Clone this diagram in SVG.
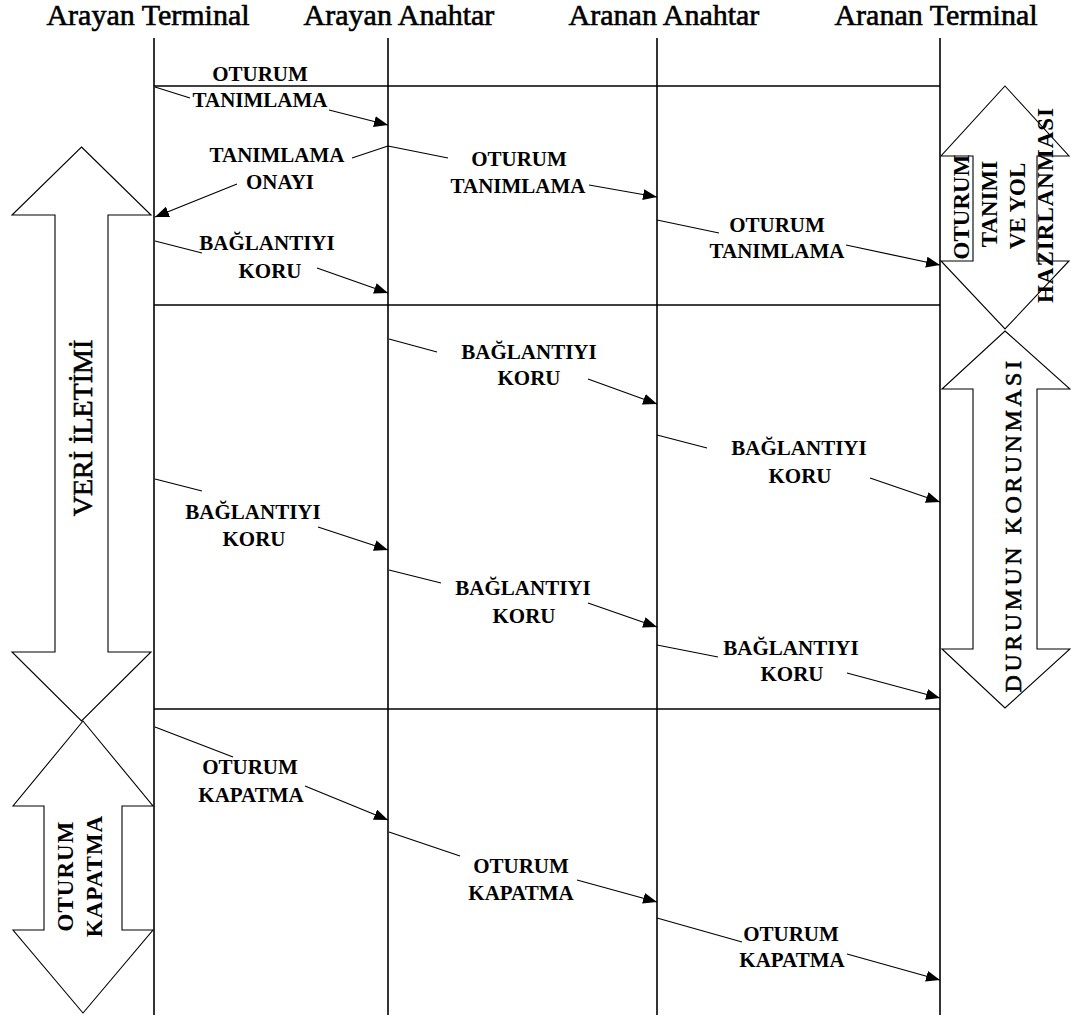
<svg xmlns="http://www.w3.org/2000/svg" width="1071" height="1018" viewBox="0 0 1071 1018">
<style>
.hdr{font-family:"Liberation Serif","Times New Roman",serif;font-size:30px;fill:#000;stroke:#000;stroke-width:0.6;text-anchor:middle}
.lbl{font-family:"Liberation Serif","Times New Roman",serif;font-size:21px;font-weight:bold;fill:#000;text-anchor:middle}
.blk{font-family:"Liberation Serif","Times New Roman",serif;font-size:23px;font-weight:bold;fill:#000;text-anchor:middle}
.big{font-family:"Liberation Serif","Times New Roman",serif;fill:#000;stroke:#000;stroke-width:0.6;text-anchor:middle}
.life{stroke:#000;stroke-width:1.6;fill:none}
.grid{stroke:#000;stroke-width:1.6;fill:none}
.shape{fill:#fff;stroke:#000;stroke-width:1.1}
.msg{stroke:#000;stroke-width:1.2;fill:none;marker-end:url(#ah)}
</style>
<defs>
<marker id="ah" markerUnits="userSpaceOnUse" markerWidth="15" markerHeight="11" refX="14" refY="5.5" orient="auto"><path d="M0,0 L14,5.5 L0,11 z" fill="#000"/></marker>
</defs>
<rect width="1071" height="1018" fill="#fff"/>

<g id="lifeline-arayan-terminal">
<text class="hdr" x="148" y="25">Arayan Terminal</text>
<line class="life" x1="154" y1="38" x2="154" y2="1015"/>
</g>
<g id="lifeline-arayan-anahtar">
<text class="hdr" x="399" y="25">Arayan Anahtar</text>
<line class="life" x1="388" y1="38" x2="388" y2="1015"/>
</g>
<g id="lifeline-aranan-anahtar">
<text class="hdr" x="664" y="25">Aranan Anahtar</text>
<line class="life" x1="657" y1="38" x2="657" y2="1015"/>
</g>
<g id="lifeline-aranan-terminal">
<text class="hdr" x="936" y="25">Aranan Terminal</text>
<line class="life" x1="940" y1="38" x2="940" y2="1015"/>
</g>

<g id="phase-lines">
<line class="grid" x1="154" y1="86" x2="940" y2="86"/>
<line class="grid" x1="154" y1="305" x2="940" y2="305"/>
<line class="grid" x1="154" y1="709" x2="940" y2="709"/>
</g>

<g id="veri-iletimi">
<polygon class="shape" points="81.5,147 151,215 108,215 108,652 151,652 81.5,721 12,652 55,652 55,215 12,215"/>
<text class="big" font-size="28" transform="translate(92,428) rotate(-90)">VERİ İLETİMİ</text>
</g>
<g id="oturum-kapatma-phase">
<polygon class="shape" points="83,721 153,806 122,806 122,930 153,930 83,1013 13,930 44,930 44,806 13,806"/>
<text class="blk" letter-spacing="1" transform="translate(73,876) rotate(-90)">OTURUM</text>
<text class="blk" letter-spacing="1" transform="translate(102,876) rotate(-90)">KAPATMA</text>
</g>
<g id="oturum-tanimi-phase">
<polygon class="shape" points="1005,86 1069,156 1037,156 1037,261 1069,261 1005,329 941,261 973,261 973,156 941,156"/>
<text class="blk" font-size="22" transform="translate(969,207) rotate(-90)">OTURUM</text>
<text class="blk" transform="translate(997,204) rotate(-90)">TANIMI</text>
<text class="blk" transform="translate(1025,206) rotate(-90)">VE YOL</text>
<text class="blk" letter-spacing="1" transform="translate(1053,205) rotate(-90)">HAZIRLANMASI</text>
</g>
<g id="durumun-korunmasi">
<polygon class="shape" points="1005,331 1070,389 1037,389 1037,649 1070,649 1005,708 942,649 973,649 973,389 942,389"/>
<text class="big" font-size="24" letter-spacing="3.5" transform="translate(1021,525) rotate(-90)">DURUMUN KORUNMASI</text>
</g>

<g id="connectors">
<path class="msg" d="M155,87 L190,98 M329,110 L388,125"/>
<path class="msg" d="M388,146 L352,158 M237,184 L155,217"/>
<path class="msg" d="M155,241 L202,253 M317,268 L388,293"/>
<path class="msg" d="M388,146 L448,158 M589,185 L657,197"/>
<path class="msg" d="M657,220 L719,233 M846,245 L940,265"/>
<path class="msg" d="M389,339 L437,352 M588,379 L657,404"/>
<path class="msg" d="M657,435 L707,448 M870,478 L940,502"/>
<path class="msg" d="M155,479 L202,491 M318,527 L388,550"/>
<path class="msg" d="M389,570 L441,583 M588,603 L657,627"/>
<path class="msg" d="M657,645 L718,657 M847,673 L940,698"/>
<path class="msg" d="M155,727 L233,757 M305,786 L388,820"/>
<path class="msg" d="M389,832 L460,856 M577,880 L657,902"/>
<path class="msg" d="M657,918 L742,942 M847,954 L940,980"/>
</g>

<g id="labels">
<text class="lbl" x="260" y="81">OTURUM</text>
<text class="lbl" x="260" y="107">TANIMLAMA</text>
<text class="lbl" x="277" y="162">TANIMLAMA</text>
<text class="lbl" x="280" y="189">ONAYI</text>
<text class="lbl" x="267" y="250">BAĞLANTIYI</text>
<text class="lbl" x="270" y="278">KORU</text>
<text class="lbl" x="519" y="166">OTURUM</text>
<text class="lbl" x="518" y="193">TANIMLAMA</text>
<text class="lbl" x="777" y="232">OTURUM</text>
<text class="lbl" x="777" y="258">TANIMLAMA</text>
<text class="lbl" x="529" y="359">BAĞLANTIYI</text>
<text class="lbl" x="529" y="385">KORU</text>
<text class="lbl" x="799" y="455">BAĞLANTIYI</text>
<text class="lbl" x="800" y="483">KORU</text>
<text class="lbl" x="253" y="519">BAĞLANTIYI</text>
<text class="lbl" x="254" y="546">KORU</text>
<text class="lbl" x="523" y="595">BAĞLANTIYI</text>
<text class="lbl" x="524" y="623">KORU</text>
<text class="lbl" x="791" y="655">BAĞLANTIYI</text>
<text class="lbl" x="792" y="681">KORU</text>
<text class="lbl" x="250" y="774">OTURUM</text>
<text class="lbl" x="251" y="802">KAPATMA</text>
<text class="lbl" x="521" y="873">OTURUM</text>
<text class="lbl" x="521" y="900">KAPATMA</text>
<text class="lbl" x="791" y="941">OTURUM</text>
<text class="lbl" x="792" y="967">KAPATMA</text>
</g>
</svg>
